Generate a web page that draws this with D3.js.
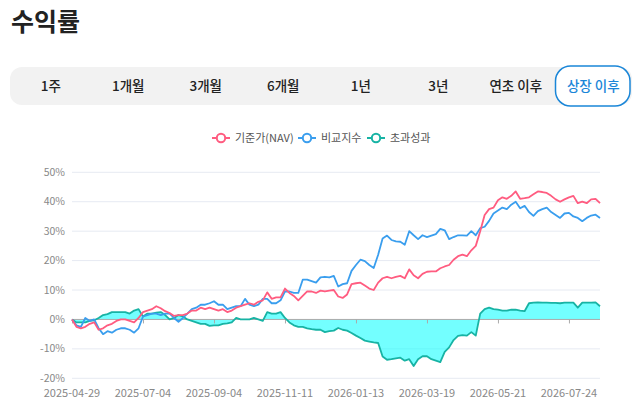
<!DOCTYPE html>
<html>
<head>
<meta charset="utf-8">
<script src="https://cdn.jsdelivr.net/npm/d3@7"></script>
<style>
  body { margin: 0; background: #fff; }
  svg { display: block; font-family: "Noto Sans CJK KR", "Noto Sans", sans-serif; }
</style>
</head>
<body>
<svg id="chart" width="640" height="402"></svg>
<script>
// period buttons
var periods = ['1주', '1개월', '3개월', '6개월', '1년', '3년', '연초 이후', '상장 이후'];
var activePeriod = '상장 이후';

// x axis: sampled trading days, labels every 16 samples
var tickLabels = ['2025-04-29', '2025-07-04', '2025-09-04', '2025-11-11', '2026-01-13', '2026-03-19', '2026-05-21', '2026-07-24'];
var tickStep = 16;
var yTicks = [-20, -10, 0, 10, 20, 30, 40, 50];

// returns in %
var nav = [0, -2.5, -3, -2.5, -1.5, -1, -3.5, -3, -2, -1.5, -0.5, 0, 0, -0.5, -1, 0.5,
  2.5, 3, 3.5, 4.5, 3.8, 2.8, 2.2, 1.2, 1.5, 1.5, 2, 3, 3, 4, 3.5, 4,
  3.5, 3, 3.5, 2.5, 3, 4, 4.5, 5, 5.5, 5, 6, 6.5, 9.2, 7, 7.5, 7.5,
  10.5, 9, 8, 6.5, 8, 9.5, 9.5, 9, 9.8, 9.5, 9.8, 10, 7.8, 7.3, 8.5, 12,
  12.3, 12.5, 11.5, 10.5, 10, 12.5, 14, 14.5, 14, 14.5, 14.8, 14, 17, 15, 14, 15.5,
  16.2, 16.3, 16.3, 17.4, 18, 18.5, 20.3, 21.5, 22, 21.5, 23.5, 25, 30, 35.5, 37.5, 38,
  40.5, 41.5, 41, 42, 43.5, 41, 41.2, 41.5, 42.5, 43.5, 43.3, 43, 42, 40.8, 40, 40.8,
  41.5, 42, 39.5, 40, 39.5, 40.8, 41, 39.5];
var bench = [0, -2, -2.5, 0.5, -0.5, 0, -3, -5, -4, -4.5, -3.5, -3, -3, -3.5, -4.5, -3,
  1, 1.5, 2, 2, 1.5, 2, 2, 0.5, -0.8, 0.5, 2, 3.5, 4, 5, 5, 5.5,
  6.2, 5, 5, 3.5, 4, 4.5, 4.5, 7, 5, 4.5, 5, 7, 7, 5.5, 5.5, 6.5,
  9.5, 9.5, 9, 9, 13.5, 13.5, 13, 12.5, 14.3, 14.5, 14.3, 14.8, 11.2, 12, 12.3, 16.5,
  18.5, 20.3, 19.8, 18.5, 17.5, 22, 27.5, 28.5, 27, 26.5, 26.4, 25.4, 30, 28.6, 27.3, 28.6,
  28, 28.5, 29, 30.8, 30.3, 27.3, 28, 28.6, 28.6, 28.5, 30, 28.6, 31, 31.5, 33.5, 36,
  37, 38, 37.5, 39, 40, 37.8, 38.6, 36.5, 35.2, 36.8, 37.5, 38, 36.5, 35.5, 34.5, 36,
  36.2, 35, 34.5, 33.4, 34.5, 35.3, 35.6, 34.5];
var excess = [0, -1, -1, -1, -0.5, -0.3, 0.5, 1.5, 1.8, 2.5, 2.5, 2.5, 2.5, 2, 3, 3.5,
  1, 2, 2, 2.3, 2.5, 1.5, 0, 0.5, 1.5, 1, 0, -0.5, -1, -1.5, -1.5, -2.2,
  -2, -2, -1.5, -1.3, -1, 0.5, 0, 0, 0, 0.5, 0, -0.5, 2.5, 2, 2, 2.5,
  0.5, -1, -2, -2.5, -2.5, -3, -3.3, -3.5, -3.5, -4.3, -4, -3.8, -2.9, -3.5, -3.8, -4.6,
  -5.5, -6.3, -7.2, -7.5, -7.8, -8, -12.6, -13.7, -13.5, -13.2, -13, -14, -13.5, -15.8, -13.5, -12.5,
  -12.5, -13.5, -14, -14.5, -11, -9.5, -7, -5.6, -5.3, -5.5, -4.3, -5.5, 2, 3.5, 4, 3.5,
  3.3, 3, 3, 3.3, 3.3, 3, 2.8, 5.5, 5.7, 5.8, 5.7, 5.7, 5.6, 5.6, 5.5, 5.7,
  5.7, 5.7, 4, 5.7, 5.7, 5.7, 5.8, 4.5];

var series = [
  { name: '기준가(NAV)', values: nav, color: '#ff5c80' },
  { name: '비교지수', values: bench, color: '#3a9eee' },
  { name: '초과성과', values: excess, color: '#17b3a4' }
];

var svg = d3.select('#chart');

// title
svg.append('text')
  .attr('x', 11).attr('y', 31)
  .attr('font-size', 25).attr('font-weight', 700)
  .attr('fill', '#222')
  .text('수익률');

// period selector
var barX = 10, barY = 67, barW = 622, barH = 38;
svg.append('rect')
  .attr('x', barX).attr('y', barY).attr('width', barW).attr('height', barH)
  .attr('rx', 12).attr('fill', '#f2f2f2');

var bx = d3.scaleBand().domain(periods).range([12, 632]);

var btn = svg.selectAll('g.btn').data(periods).enter().append('g').attr('class', 'btn');
btn.filter(function(d) { return d === activePeriod; })
  .append('rect')
  .attr('x', function(d) { return bx(d) + 1; })
  .attr('y', barY - 1)
  .attr('width', bx.bandwidth() - 3)
  .attr('height', barH + 2)
  .attr('rx', 15)
  .attr('fill', '#fff')
  .attr('stroke', '#1a86d8')
  .attr('stroke-width', 1.5);
btn.append('text')
  .attr('x', function(d) { return bx(d) + bx.bandwidth() / 2; })
  .attr('y', barY + barH / 2 + 5)
  .attr('text-anchor', 'middle')
  .attr('font-size', 13.5)
  .attr('font-weight', 500)
  .attr('fill', function(d) { return d === activePeriod ? '#1a86d8' : '#222'; })
  .text(function(d) { return d; });

// legend
var legendX = [212, 298, 367];
var lg = svg.selectAll('g.lg').data(series).enter().append('g')
  .attr('class', 'lg')
  .attr('transform', function(d, i) { return 'translate(' + legendX[i] + ',138)'; });
lg.append('line')
  .attr('x1', 0).attr('x2', 18)
  .attr('stroke', function(d) { return d.color; })
  .attr('stroke-width', 2);
lg.append('circle')
  .attr('cx', 9).attr('r', 4.2)
  .attr('fill', '#fff')
  .attr('stroke', function(d) { return d.color; })
  .attr('stroke-width', 2);
lg.append('text')
  .attr('x', 23).attr('y', 4)
  .attr('font-size', 11).attr('fill', '#555')
  .text(function(d) { return d.name; });

// scales
var x = d3.scaleLinear().domain([0, nav.length - 1]).range([72, 600]);
var y = d3.scaleLinear().domain([-20, 50]).range([378.3, 172.3]);

// grid
svg.append('g').selectAll('line').data(yTicks.filter(function(t) { return t !== 0; }))
  .enter().append('line')
  .attr('x1', 72).attr('x2', 600)
  .attr('y1', function(d) { return y(d); }).attr('y2', function(d) { return y(d); })
  .attr('stroke', '#e6eaf2').attr('stroke-width', 1);

// y labels
svg.append('g').selectAll('text').data(yTicks).enter().append('text')
  .attr('x', 65)
  .attr('y', function(d) { return y(d) + 3.5; })
  .attr('text-anchor', 'end')
  .attr('font-size', 10.5).attr('fill', '#888')
  .text(function(d) { return d + '%'; });

// excess area
var area = d3.area()
  .x(function(d, i) { return x(i); })
  .y0(y(0))
  .y1(function(d) { return y(d); });
svg.append('path')
  .datum(excess)
  .attr('d', area)
  .attr('fill', '#00ffff')
  .attr('fill-opacity', 0.55);

// zero axis with ticks
var tickIdx = tickLabels.map(function(d, i) { return i * tickStep; });
var xAxis = d3.axisBottom(x)
  .tickValues(tickIdx)
  .tickSize(4)
  .tickFormat('');
var ax = svg.append('g').attr('transform', 'translate(0,' + y(0) + ')').call(xAxis);
ax.select('.domain').attr('stroke', '#aaa').attr('d', 'M72,0H600');
ax.selectAll('.tick line').attr('stroke', '#aaa');

// x labels at bottom
svg.append('g').selectAll('text').data(tickLabels).enter().append('text')
  .attr('x', function(d, i) { return x(tickIdx[i]); })
  .attr('y', 397)
  .attr('text-anchor', 'middle')
  .attr('font-size', 11).attr('fill', '#888')
  .text(function(d) { return d; });

// lines
var line = d3.line()
  .x(function(d, i) { return x(i); })
  .y(function(d) { return y(d); });
svg.append('g').selectAll('path').data([series[2], series[1], series[0]]).enter().append('path')
  .attr('d', function(d) { return line(d.values); })
  .attr('fill', 'none')
  .attr('stroke', function(d) { return d.color; })
  .attr('stroke-width', 1.8)
  .attr('stroke-linejoin', 'round');
</script>
</body>
</html>
